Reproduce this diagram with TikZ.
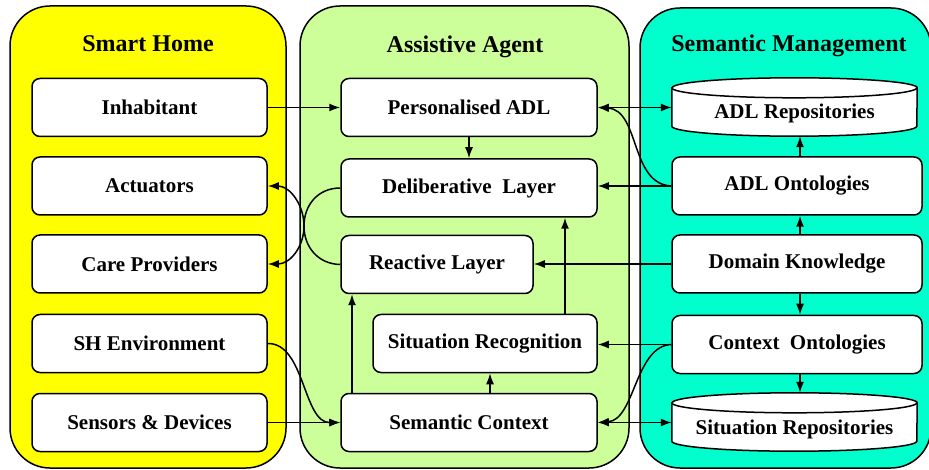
\documentclass[tikz,border=0pt]{standalone}
\usepackage{fontspec}
\setmainfont{Liberation Serif}
\usetikzlibrary{arrows.meta}

\definecolor{homeyellow}{HTML}{FFFF00}
\definecolor{agentgreen}{HTML}{CCFF99}
\definecolor{semteal}{HTML}{00FFCC}

\tikzset{
  panel/.style={draw=black, line width=1.5pt, rounded corners=40pt},
  paneltitle/.style={font=\fontsize{24}{28}\selectfont\bfseries, inner sep=0pt},
  box/.style={draw=black, fill=white, line width=1.5pt, rounded corners=8pt,
    minimum height=58pt, inner sep=0pt,
    font=\fontsize{21}{24}\selectfont\bfseries},
  dbnode/.style={inner sep=0pt, minimum height=58pt,
    font=\fontsize{21}{24}\selectfont\bfseries, text depth=0pt},
  dblabel/.style={font=\fontsize{21}{24}\selectfont\bfseries, inner sep=0pt},
  conn/.style={line width=1.5pt, -{Latex[length=11pt,width=8pt]}},
  biconn/.style={line width=1.5pt, {Latex[length=11pt,width=8pt]}-{Latex[length=11pt,width=8pt]}},
}

% database cylinder drawn round a named node of given half width
\newcommand\dbcyl[2]{%
  \draw[line width=1.5pt, fill=white]
    ([yshift=-10pt]#1.north west) -- ([yshift=10pt]#1.south west)
    arc[start angle=180, end angle=360, x radius=#2, y radius=10pt]
    -- ([yshift=-10pt]#1.north east)
    arc[start angle=0, end angle=180, x radius=#2, y radius=10pt] -- cycle;
  \draw[line width=1.5pt] ([yshift=-10pt]#1.north west)
    arc[start angle=180, end angle=360, x radius=#2, y radius=10pt];
}

\begin{document}
\begin{tikzpicture}[x=1pt, y=-1pt]
\useasboundingbox (0,0) rectangle (929,470);
\fill[white] (0,0) rectangle (929,470);

% panels
\draw[panel, fill=homeyellow] (10,6) rectangle (286,468);
\draw[panel, fill=agentgreen] (300,6) rectangle (629,468);
\draw[panel, fill=semteal] (640,8) rectangle (931,468);

\node[paneltitle] (t1) at (148,44) {Smart Home};
\node[paneltitle] (t2) at (465,47) {Assistive Agent};
\node[paneltitle] (t3) at (789,46) {Semantic Management};

% smart home column
\node[box, minimum width=235pt] (inhab) at (149.5,107.5) {Inhabitant};
\node[box, minimum width=235pt] (act)   at (149.5,186)   {Actuators};
\node[box, minimum width=235pt] (care)  at (149.5,264)   {Care Providers};
\node[box, minimum width=235pt] (shenv) at (149.5,343.5) {SH Environment};
\node[box, minimum width=235pt] (sens)  at (149.5,422.5) {Sensors \& Devices};

% assistive agent column
\node[box, minimum width=256pt] (padl)   at (469,107.5) {Personalised ADL};
\node[box, minimum width=256pt] (delib)  at (469,188)   {Deliberative~~Layer};
\node[box, minimum width=192pt] (react)  at (437,264.5) {Reactive Layer};
\node[box, minimum width=224pt] (sitrec) at (485,343.5) {Situation Recognition};
\node[box, minimum width=256pt] (semctx) at (469,422.5) {Semantic Context};

% semantic management column
\node[dbnode, minimum width=245pt] (adlrep) at (794.5,107) {};
\dbcyl{adlrep}{122.5pt}
\node[dblabel] (adlrepl) at (794.5,113) {ADL Repositories};
\node[box, minimum width=250pt] (adlont) at (797,186)   {ADL Ontologies};
\node[box, minimum width=250pt] (dk)     at (797,264)   {Domain Knowledge};
\node[box, minimum width=250pt] (ctxont) at (797,344.5) {Context~~Ontologies};
\node[dbnode, minimum width=245pt] (sitrep) at (794.5,422) {};
\dbcyl{sitrep}{122.5pt}
\node[dblabel] (sitrepl) at (794.5,429) {Situation Repositories};

\coordinate (vx) at (800,0);
\coordinate (vsr) at (352,0);
\coordinate (vsc) at (490,0);
\coordinate (vrec) at (565,0);
\coordinate (kiss) at (304,226);

% connectors
\draw[conn] (inhab.east) -- (padl.west);
\draw[biconn] (padl.east) -- (padl.east -| adlrep.west);
\draw[conn] (adlont.west) .. controls (630,184) and (640,110) .. (padl.east);
\draw[conn] (adlont.west) -- (adlont.west -| delib.east);
\draw[conn] (adlont.north -| vx) -- (adlrep.south -| vx);
\draw[conn] (dk.north -| vx) -- (adlont.south -| vx);
\draw[conn] (dk.south -| vx) -- (ctxont.north -| vx);
\draw[conn] (ctxont.south -| vx) -- (sitrep.north -| vx);
\draw[conn] (dk.west) -- (dk.west -| react.east);
\draw[conn] (ctxont.west) -- (ctxont.west -| sitrec.east);
\draw[conn] (ctxont.west) .. controls (635,346) and (635,420) .. (semctx.east);
\draw[biconn] (semctx.east) -- (semctx.east -| sitrep.west);

\draw[conn] (padl.south) -- (delib.north);
\draw[conn] (delib.west) .. controls (318,188) and (304,205) .. (kiss)
  .. controls (304,247) and (290,264) .. (care.east);
\draw[conn] (react.west) .. controls (318,264) and (304,247) .. (kiss)
  .. controls (304,205) and (290,186) .. (act.east);
\draw[conn] (semctx.north -| vsr) -- (react.south -| vsr);
\draw[conn] (semctx.north -| vsc) -- (sitrec.south -| vsc);
\draw[conn] (sitrec.north -| vrec) -- (delib.south -| vrec);

\draw[conn] (sens.east) -- (semctx.west);
\draw[conn] (shenv.east) .. controls (305,343) and (303,423) .. (semctx.west);
\end{tikzpicture}
\end{document}
